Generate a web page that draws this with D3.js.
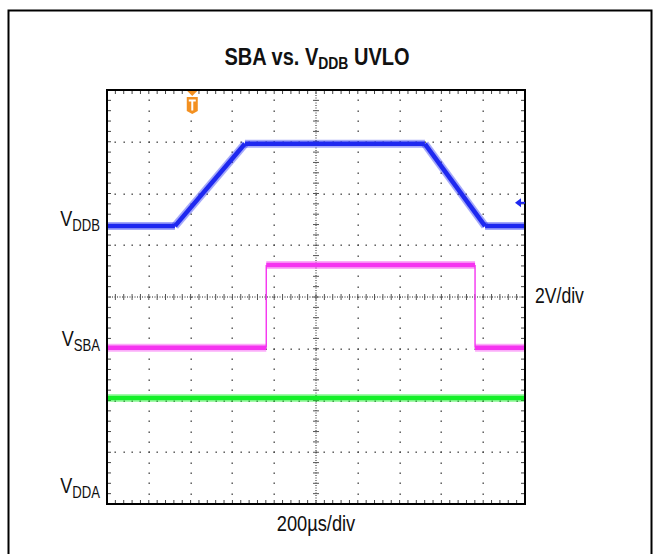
<!DOCTYPE html>
<html>
<head>
<meta charset="utf-8">
<script src="https://cdn.jsdelivr.net/npm/d3@7"></script>
<style>
  html, body { margin: 0; padding: 0; background: #fff; }
  svg text { font-family: "Liberation Sans", Arial, sans-serif; fill: #111; }
</style>
</head>
<body>
<div id="chart"></div>
<script>
// Scope settings: 10 horizontal divisions of 200µs, 8 vertical divisions of 2V
const timeRange = [0, 2000];          // µs
const divRange = [-4, 4];             // screen divisions

// Traces, in µs and in screen divisions
const vddbTime = [0, 325, 660, 1521, 1809, 2000];
const vddbLevel = [1.37, 1.37, 2.96, 2.96, 1.37, 1.37];
const vsbaTime = [0, 762, 762, 1761, 1761, 2000];
const vsbaLevel = [-0.98, -0.98, 0.62, 0.62, -0.98, -0.98];
const vddaTime = [0, 2000];
const vddaLevel = [-1.95, -1.95];

const triggerTime = 408;
const vddbMarkerLevel = 1.82;

const channelLabels = [
  { base: "V", sub: "DDB", level: 1.37 },
  { base: "V", sub: "SBA", level: -0.95 },
  { base: "V", sub: "DDA", level: -3.78 }
];

const width = 654, height = 554;
const plot = { left: 107, right: 525, top: 90, bottom: 504 };

const svg = d3.select('#chart').append('svg').attr('width', width).attr('height', height);

// outer frame (open at the bottom)
svg.append('path')
  .attr('d', `M8.5,${height} V10.5 H651.5 V${height}`)
  .attr('fill', 'none').attr('stroke', '#000').attr('stroke-width', 2);

// the original uses a condensed face, so squeeze the text horizontally
function narrowText(px, py, anchor, sx) {
  return svg.append('g').attr('transform', `translate(${px},${py}) scale(${sx},1)`)
    .append('text').attr('text-anchor', anchor);
}

// title
const title = narrowText(317, 65, 'middle', 0.87).style('font-size', '23px').style('font-weight', 'bold');
title.append('tspan').text('SBA vs. V');
title.append('tspan').text('DDB').style('font-size', '16px').attr('dy', 4);
title.append('tspan').text(' UVLO').attr('dy', -4);

const x = d3.scaleLinear().domain(timeRange).range([plot.left, plot.right]);
const y = d3.scaleLinear().domain(divRange).range([plot.bottom, plot.top]);

const xMajor = d3.range(timeRange[0], timeRange[1] + 1, 200);
const xMinor = d3.range(timeRange[0], timeRange[1] + 1, 40);
const yMajor = d3.range(divRange[0], divRange[1] + 0.01, 1);
const yMinor = d3.range(divRange[0], divRange[1] + 0.01, 0.2).map(v => Math.round(v * 10) / 10);

const grid = svg.append('g');
const dotColor = '#444';

// dotted grid: dots at minor positions along major lines
xMajor.slice(1, -1).filter(t => t !== 1000).forEach(t => {
  grid.selectAll(null).data(yMinor.slice(1, -1)).enter().append('rect')
    .attr('x', Math.round(x(t)) - 0.5).attr('y', d => Math.round(y(d)) - 0.5)
    .attr('width', 1.4).attr('height', 1.4).attr('fill', dotColor);
});
yMajor.slice(1, -1).filter(v => v !== 0).forEach(v => {
  grid.selectAll(null).data(xMinor.slice(1, -1)).enter().append('rect')
    .attr('x', d => Math.round(x(d)) - 0.5).attr('y', Math.round(y(v)) - 0.5)
    .attr('width', 1.4).attr('height', 1.4).attr('fill', dotColor);
});

// centre cross: fine dotted lines with minor ticks
grid.append('line').attr('x1', x(1000)).attr('x2', x(1000)).attr('y1', plot.top).attr('y2', plot.bottom)
  .attr('stroke', '#222').attr('stroke-width', 1).attr('stroke-dasharray', '1,1.5');
grid.append('line').attr('x1', plot.left).attr('x2', plot.right).attr('y1', y(0)).attr('y2', y(0))
  .attr('stroke', '#222').attr('stroke-width', 1).attr('stroke-dasharray', '1,1.5');
grid.selectAll(null).data(yMinor.slice(1, -1)).enter().append('line')
  .attr('x1', x(1000) - 3).attr('x2', x(1000) + 3).attr('y1', d => y(d)).attr('y2', d => y(d))
  .attr('stroke', '#555').attr('stroke-width', 1);
grid.selectAll(null).data(xMinor.slice(1, -1)).enter().append('line')
  .attr('x1', d => x(d)).attr('x2', d => x(d)).attr('y1', y(0) - 3).attr('y2', y(0) + 3)
  .attr('stroke', '#555').attr('stroke-width', 1);

// ticks on the frame edges
grid.selectAll(null).data(xMinor.slice(1, -1)).enter().append('line')
  .attr('x1', d => x(d)).attr('x2', d => x(d)).attr('y1', plot.top).attr('y2', plot.top + 4)
  .attr('stroke', '#444');
grid.selectAll(null).data(xMinor.slice(1, -1)).enter().append('line')
  .attr('x1', d => x(d)).attr('x2', d => x(d)).attr('y1', plot.bottom).attr('y2', plot.bottom - 4)
  .attr('stroke', '#444');
grid.selectAll(null).data(yMinor.slice(1, -1)).enter().append('line')
  .attr('x1', plot.left).attr('x2', plot.left + 4).attr('y1', d => y(d)).attr('y2', d => y(d))
  .attr('stroke', '#444');
grid.selectAll(null).data(yMinor.slice(1, -1)).enter().append('line')
  .attr('x1', plot.right).attr('x2', plot.right - 4).attr('y1', d => y(d)).attr('y2', d => y(d))
  .attr('stroke', '#444');

// traces
function drawTrace(times, levels, color) {
  const pts = times.map((t, i) => [x(t), y(levels[i])]);
  const g = svg.append('g');
  const segs = d3.pairs(pts);
  // fast edges are drawn thin, noisy levels and ramps thick
  g.selectAll(null).data(segs.filter(s => s[0][0] === s[1][0])).enter().append('line')
    .attr('x1', s => s[0][0]).attr('y1', s => s[0][1]).attr('x2', s => s[1][0]).attr('y2', s => s[1][1])
    .attr('stroke', color).attr('stroke-width', 1.4);
  const slow = segs.filter(s => s[0][0] !== s[1][0]);
  g.selectAll(null).data(slow).enter().append('line')
    .attr('x1', s => s[0][0]).attr('y1', s => s[0][1]).attr('x2', s => s[1][0]).attr('y2', s => s[1][1])
    .attr('stroke', color).attr('stroke-opacity', 0.4).attr('stroke-width', 8);
  g.selectAll(null).data(slow).enter().append('line')
    .attr('x1', s => s[0][0]).attr('y1', s => s[0][1]).attr('x2', s => s[1][0]).attr('y2', s => s[1][1])
    .attr('stroke', color).attr('stroke-width', 4.5).attr('stroke-linecap', 'butt');
}
drawTrace(vddaTime, vddaLevel, '#14f028');
drawTrace(vsbaTime, vsbaLevel, '#f533f0');
drawTrace(vddbTime, vddbLevel, '#1e28f0');

// plot frame
svg.append('rect').attr('x', plot.left).attr('y', plot.top)
  .attr('width', plot.right - plot.left).attr('height', plot.bottom - plot.top)
  .attr('fill', 'none').attr('stroke', '#000').attr('stroke-width', 2);

// trigger marker
const tx = x(triggerTime);
svg.append('path').attr('d', `M${tx - 5},${plot.top + 1} L${tx + 5},${plot.top + 1} L${tx},${plot.top + 6} Z`)
  .attr('fill', '#f39020');
svg.append('path')
  .attr('d', `M${tx - 5.5},${plot.top + 7} H${tx + 5.5} V${plot.top + 21} L${tx},${plot.top + 24} L${tx - 5.5},${plot.top + 21} Z`)
  .attr('fill', '#f39020');
svg.append('path')
  .attr('d', `M${tx - 3.5},${plot.top + 9.5} H${tx + 3.5} V${plot.top + 11.5} H${tx + 1} V${plot.top + 20.5} H${tx - 1} V${plot.top + 11.5} H${tx - 3.5} Z`)
  .attr('fill', '#fff');

// VDDB level marker on the right edge
const my = y(vddbMarkerLevel);
svg.append('path').attr('d', `M${plot.right - 10},${my} L${plot.right - 4},${my - 4.5} L${plot.right - 4},${my + 4.5} Z`)
  .attr('fill', '#1e28f0');
svg.append('line').attr('x1', plot.right - 5).attr('x2', plot.right).attr('y1', my).attr('y2', my)
  .attr('stroke', '#1e28f0').attr('stroke-width', 2);

// channel labels
channelLabels.forEach(c => {
  const t = narrowText(100, y(c.level), 'end', 0.82).style('font-size', '22px');
  t.append('tspan').text(c.base);
  t.append('tspan').text(c.sub).style('font-size', '16px').attr('dy', 5);
});

narrowText(535, 303, 'start', 0.8).style('font-size', '22px').text('2V/div');
narrowText(316, 531, 'middle', 0.83).style('font-size', '22px').text('200µs/div');
</script>
</body>
</html>
